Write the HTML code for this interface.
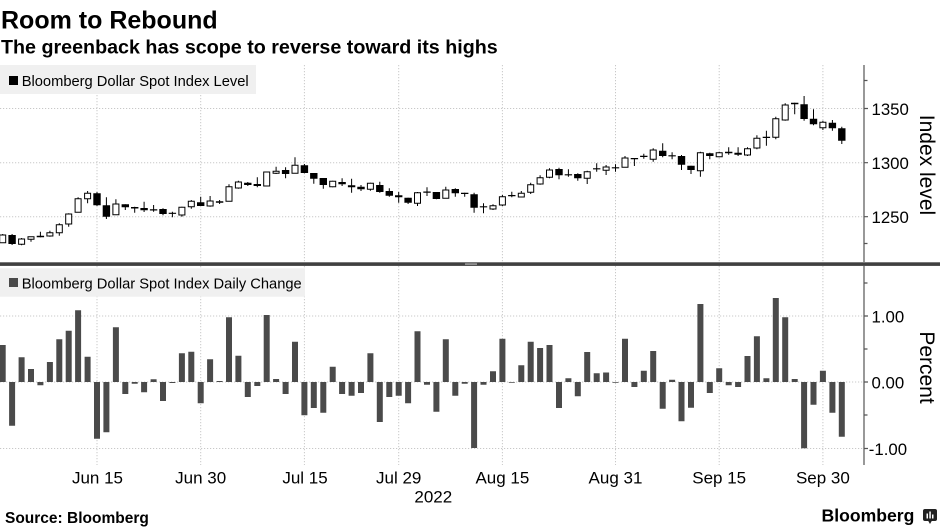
<!DOCTYPE html>
<html><head><meta charset="utf-8"><style>
html,body{margin:0;padding:0;background:#fff;}
body{width:940px;height:528px;overflow:hidden;}
svg{display:block;font-family:"Liberation Sans",sans-serif;}
</style></head><body>
<svg width="940" height="528" viewBox="0 0 940 528" xmlns="http://www.w3.org/2000/svg">
<rect width="940" height="528" fill="#fff"/>
<text x="1" y="28.3" font-size="25" font-weight="bold" fill="#000">Room to Rebound</text>
<text x="1" y="53.3" font-size="19.7" font-weight="bold" fill="#000">The greenback has scope to reverse toward its highs</text>
<g stroke="#c8c8c8" stroke-width="1" stroke-dasharray="1.2,1.8" fill="none">
<path d="M0 108.5H864M0 162.7H864M0 216.7H864"/>
<path d="M0 316H864M0 382H864M0 448.5H864"/>
<path d="M97 65V262M200.7 65V262M304.4 65V262M398.7 65V262M502.4 65V262M615.5 65V262M719.2 65V262M822.9 65V262"/>
<path d="M97 266V465M200.7 266V465M304.4 266V465M398.7 266V465M502.4 266V465M615.5 266V465M719.2 266V465M822.9 266V465"/>
</g>
<rect x="0" y="65" width="256" height="29" fill="#f0f0f0"/>
<rect x="9" y="76" width="9" height="9" fill="#000"/>
<text x="21.7" y="86" font-size="14.7" fill="#000">Bloomberg Dollar Spot Index Level</text>
<rect x="0" y="268.3" width="305" height="28.4" fill="#f0f0f0"/>
<rect x="9" y="278" width="9" height="9" fill="#4a4a4a"/>
<text x="21.7" y="288.3" font-size="14.7" fill="#000">Bloomberg Dollar Spot Index Daily Change</text>
<path fill="none" stroke="#000" stroke-width="1" d="M2.7 234V243M12.1 234V245M21.6 238V245.3M31 236.7V241.7M40.4 231.7V237.3M49.9 230.7V236.7M59.3 223.3V235.7M68.7 213.3V226.7M78.1 197.3V212.3M87.6 191V203.3M97 192V206M106.4 197.3V219M115.9 199.3V214.7M125.3 204.3V210M134.7 206.7V212.7M144.1 201.7V212M153.6 205V211.7M163 208.3V215.3M172.4 211.7V217.3M181.9 206.7V216.7M191.3 200V208.7M200.7 196.7V206M210.1 196V206.7M219.6 200V204M229 184.3V201.3M238.4 180.7V188.7M247.8 182V186M257.3 177.3V187.3M266.7 172V186M276.1 166.7V174M285.6 167.3V178.3M295 157.3V173.3M304.4 164V173.3M313.8 173V183.7M323.3 178V188.7M332.7 180.7V187.3M342.1 178.3V186M351.6 178.7V192.7M361 185V191M370.4 182.7V190.7M379.8 181.7V192.7M389.3 188.3V196.7M398.7 192V202.7M408.1 197.7V204M417.5 192V206M427 187.3V196M436.4 192V199.3M445.8 186.7V198.3M455.3 188.3V196.7M464.7 192.7V196.7M474.1 192.7V212.7M483.5 203.3V213.3M493 204.3V210M502.4 195V206M511.8 191.7V197.3M521.3 191V197.3M530.7 182.7V194M540.1 175.3V184.7M549.5 168.3V178.3M559 167.7V179.3M568.4 169.3V176.7M577.8 173.3V180.7M587.2 170.7V184M596.7 163.3V171.7M606.1 165V175M615.5 164.3V171.7M625 156V167.3M634.4 158V166M643.8 153.7V158.7M653.2 148.3V161.7M662.7 143.3V157.3M672.1 152.3V159.3M681.5 155V170M691 165.7V174M700.4 151.7V176.7M709.8 152.7V159.3M719.2 151.7V157.3M728.7 147.3V154.7M738.1 147.3V156M747.5 147.3V156M756.9 135.3V149.3M766.4 130.7V145.7M775.8 116.7V139.3M785.2 103.3V120.7M794.7 102.7V114.3M804.1 96V120.7M813.5 109.3V125.3M822.9 120.7V130M832.4 120V130.7M841.8 126.7V144"/>
<path fill="#000" d="M8.4 235h7.4v9h-7.4zM36.7 235.7h7.4v1.6h-7.4zM93.3 193.3h7.4v12h-7.4zM102.7 205.3h7.4v11.4h-7.4zM121.6 204.3h7.4v3h-7.4zM131 207h7.4v1.5h-7.4zM140.4 208h7.4v2.3h-7.4zM149.9 209.3h7.4v1.2h-7.4zM159.3 209h7.4v5h-7.4zM168.7 212.7h7.4v1.2h-7.4zM197 202.3h7.4v3.7h-7.4zM215.9 201.3h7.4v1.4h-7.4zM244.1 182.7h7.4v2.3h-7.4zM253.6 184h7.4v2h-7.4zM281.9 170h7.4v4h-7.4zM300.7 165.3h7.4v7.7h-7.4zM310.1 173h7.4v5.7h-7.4zM319.6 178h7.4v7h-7.4zM338.4 182h7.4v2.3h-7.4zM347.9 185.3h7.4v2h-7.4zM357.3 186.7h7.4v2.6h-7.4zM376.1 185h7.4v7h-7.4zM385.6 191h7.4v4.7h-7.4zM395 195.3h7.4v2h-7.4zM404.4 197.7h7.4v5h-7.4zM423.3 191.5h7.4v1.2h-7.4zM432.7 192h7.4v7h-7.4zM451.6 189h7.4v4.3h-7.4zM461 192.7h7.4v1.3h-7.4zM470.4 194.3h7.4v13.4h-7.4zM479.8 206.2h7.4v1.2h-7.4zM508.1 195h7.4v1.2h-7.4zM555.3 169h7.4v6.3h-7.4zM564.7 174.2h7.4v1.2h-7.4zM574.1 174h7.4v4.3h-7.4zM593 168.2h7.4v1.2h-7.4zM611.8 167.2h7.4v1.2h-7.4zM630.7 158h7.4v1.3h-7.4zM640.1 155.8h7.4v1.2h-7.4zM659 150.7h7.4v5.3h-7.4zM668.4 155.2h7.4v1.2h-7.4zM677.8 156h7.4v8.7h-7.4zM687.3 165.7h7.4v4.3h-7.4zM706.1 153.3h7.4v2.7h-7.4zM725 151.7h7.4v1.6h-7.4zM734.4 152.7h7.4v2h-7.4zM762.7 136.8h7.4v1.2h-7.4zM791 102.7h7.4v1.6h-7.4zM800.4 104.3h7.4v14.7h-7.4zM809.8 118.7h7.4v5.6h-7.4zM828.7 122.7h7.4v5.6h-7.4zM838.1 128.3h7.4v12.4h-7.4z"/>
<path fill="#fff" stroke="#000" stroke-width="1" d="M-0.3 235h6v7.7h-6zM18.6 239h6v5.3h-6zM28 236.7h6v2.6h-6zM46.9 232.7h6v3.3h-6zM56.3 224.7h6v8h-6zM65.7 214h6v10h-6zM75.1 198.7h6v13.6h-6zM84.6 193.3h6v5.4h-6zM112.9 204h6v10.7h-6zM178.9 207.3h6v7.7h-6zM188.3 201.3h6v5.4h-6zM207.1 201h6v5h-6zM226 186.7h6v14.6h-6zM235.4 182h6v6h-6zM263.7 172h6v14h-6zM273.1 171.3h6v2h-6zM292 165.3h6v8h-6zM329.7 181.3h6v5.4h-6zM367.4 183.3h6v6h-6zM414.5 192.7h6v10.6h-6zM442.8 190h6v8.3h-6zM490 205.7h6v3.3h-6zM499.4 196.7h6v8.3h-6zM518.3 193.3h6v3.7h-6zM527.7 184.7h6v7.6h-6zM537.1 177.7h6v6.3h-6zM546.5 170h6v7.3h-6zM584.2 171.7h6v6.6h-6zM603.1 167h6v3.3h-6zM622 158h6v9.3h-6zM650.2 150h6v9.3h-6zM697.4 152.7h6v18h-6zM716.2 152.7h6v4h-6zM744.5 148.7h6v6.3h-6zM753.9 138.3h6v9.7h-6zM772.8 118.7h6v18.6h-6zM782.2 105h6v15h-6zM819.9 122.3h6v5.4h-6z"/>
<path fill="#4a4a4a" d="M-0.3 345h6v37h-6zM9.1 382h6v43.7h-6zM18.6 357.3h6v24.7h-6zM28 369h6v13h-6zM37.4 382h6v3.3h-6zM46.9 362h6v20h-6zM56.3 339.3h6v42.7h-6zM65.7 330.7h6v51.3h-6zM75.1 310.3h6v71.7h-6zM84.6 356.7h6v25.3h-6zM94 382h6v56.7h-6zM103.4 382h6v50.3h-6zM112.9 327.3h6v54.7h-6zM122.3 382h6v12h-6zM131.7 382h6v1.7h-6zM141.1 382h6v10.3h-6zM150.6 379.3h6v2.7h-6zM160 382h6v19h-6zM169.4 382h6v1h-6zM178.9 353.3h6v28.7h-6zM188.3 351.7h6v30.3h-6zM197.7 382h6v21.3h-6zM207.1 359.3h6v22.7h-6zM216.6 381h6v1h-6zM226 317.3h6v64.7h-6zM235.4 355.7h6v26.3h-6zM244.8 382h6v15h-6zM254.3 382h6v4h-6zM263.7 315h6v67h-6zM273.1 379h6v3h-6zM282.6 382h6v12h-6zM292 341.7h6v40.3h-6zM301.4 382h6v33.3h-6zM310.8 382h6v26h-6zM320.3 382h6v30.7h-6zM329.7 366.7h6v15.3h-6zM339.1 382h6v12h-6zM348.6 382h6v13.7h-6zM358 382h6v11h-6zM367.4 353.3h6v28.7h-6zM376.8 382h6v40h-6zM386.3 382h6v15h-6zM395.7 382h6v13.7h-6zM405.1 382h6v21.3h-6zM414.5 331.3h6v50.7h-6zM424 382h6v2.7h-6zM433.4 382h6v29.7h-6zM442.8 339.3h6v42.7h-6zM452.3 382h6v13.7h-6zM461.7 382h6v1.7h-6zM471.1 382h6v66h-6zM480.5 382h6v2.7h-6zM490 371.3h6v10.7h-6zM499.4 338.7h6v43.3h-6zM508.8 382h6v0.8h-6zM518.3 365.3h6v16.7h-6zM527.7 341.7h6v40.3h-6zM537.1 348h6v34h-6zM546.5 345h6v37h-6zM556 382h6v26h-6zM565.4 378.3h6v3.7h-6zM574.8 382h6v14.3h-6zM584.2 352h6v30h-6zM593.7 373.3h6v8.7h-6zM603.1 372.5h6v9.5h-6zM612.5 382h6v0.8h-6zM622 338.7h6v43.3h-6zM631.4 382h6v5h-6zM640.8 370.7h6v11.3h-6zM650.2 351h6v31h-6zM659.7 382h6v26.7h-6zM669.1 379.7h6v2.3h-6zM678.5 382h6v39.3h-6zM688 382h6v25.7h-6zM697.4 304h6v78h-6zM706.8 382h6v11h-6zM716.2 368.3h6v13.7h-6zM725.7 382h6v3.3h-6zM735.1 382h6v5h-6zM744.5 356h6v26h-6zM753.9 336.3h6v45.7h-6zM763.4 378.3h6v3.7h-6zM772.8 298h6v84h-6zM782.2 317.3h6v64.7h-6zM791.7 379h6v3h-6zM801.1 382h6v66.3h-6zM810.5 382h6v22.7h-6zM819.9 370.7h6v11.3h-6zM829.4 382h6v30.7h-6zM838.8 382h6v54.7h-6z"/>
<rect x="0" y="262.3" width="940" height="3.6" fill="#404040"/>
<rect x="465" y="263.3" width="12" height="1.6" fill="#9a9a9a"/>
<g stroke="#555" stroke-width="1.2" fill="none">
<path d="M864 65V262M864 266V465"/>
<path d="M864 80.5H867.5M864 108.5H868M864 162.7H868M864 216.7H868M864 243.5H867.5"/>
<path d="M864 283H867.5M864 316H868M864 349H867.5M864 382H868M864 415H867.5M864 448.5H868"/>
</g>
<g font-size="16.8" fill="#000">
<text x="871.5" y="115">1350</text>
<text x="871.5" y="169.2">1300</text>
<text x="871.5" y="223.2">1250</text>
<text x="871.5" y="322.5">1.00</text>
<text x="871.5" y="388.7">0.00</text>
<text x="868.8" y="455">-1.00</text>
</g>
<text transform="translate(920,165) rotate(90)" text-anchor="middle" font-size="21" fill="#000">Index level</text>
<text transform="translate(920,367.5) rotate(90)" text-anchor="middle" font-size="21" fill="#000">Percent</text>
<g font-size="17" fill="#000" text-anchor="middle">
<text x="97.5" y="483.3">Jun 15</text>
<text x="200.7" y="483.3">Jun 30</text>
<text x="305" y="483.3">Jul 15</text>
<text x="398.7" y="483.3">Jul 29</text>
<text x="502.4" y="483.3">Aug 15</text>
<text x="615.5" y="483.3">Aug 31</text>
<text x="719.2" y="483.3">Sep 15</text>
<text x="822.9" y="483.3">Sep 30</text>
<text x="433.3" y="502.3">2022</text>
</g>
<text x="5" y="523" font-size="15.5" font-weight="bold" fill="#000">Source: Bloomberg</text>
<text x="821.5" y="521.7" font-size="17.6" font-weight="bold" fill="#000">Bloomberg</text>
<rect x="923" y="509" width="14" height="12" rx="2" fill="#222"/>
<path d="M928 520.5L930 524L932 520.5Z" fill="#222"/>
<rect x="926.5" y="513.5" width="1.5" height="5" fill="#fff"/>
<rect x="929.3" y="511.5" width="1.5" height="7" fill="#fff"/>
<rect x="932" y="514.5" width="1.5" height="4" fill="#fff"/>
</svg>
</body></html>
